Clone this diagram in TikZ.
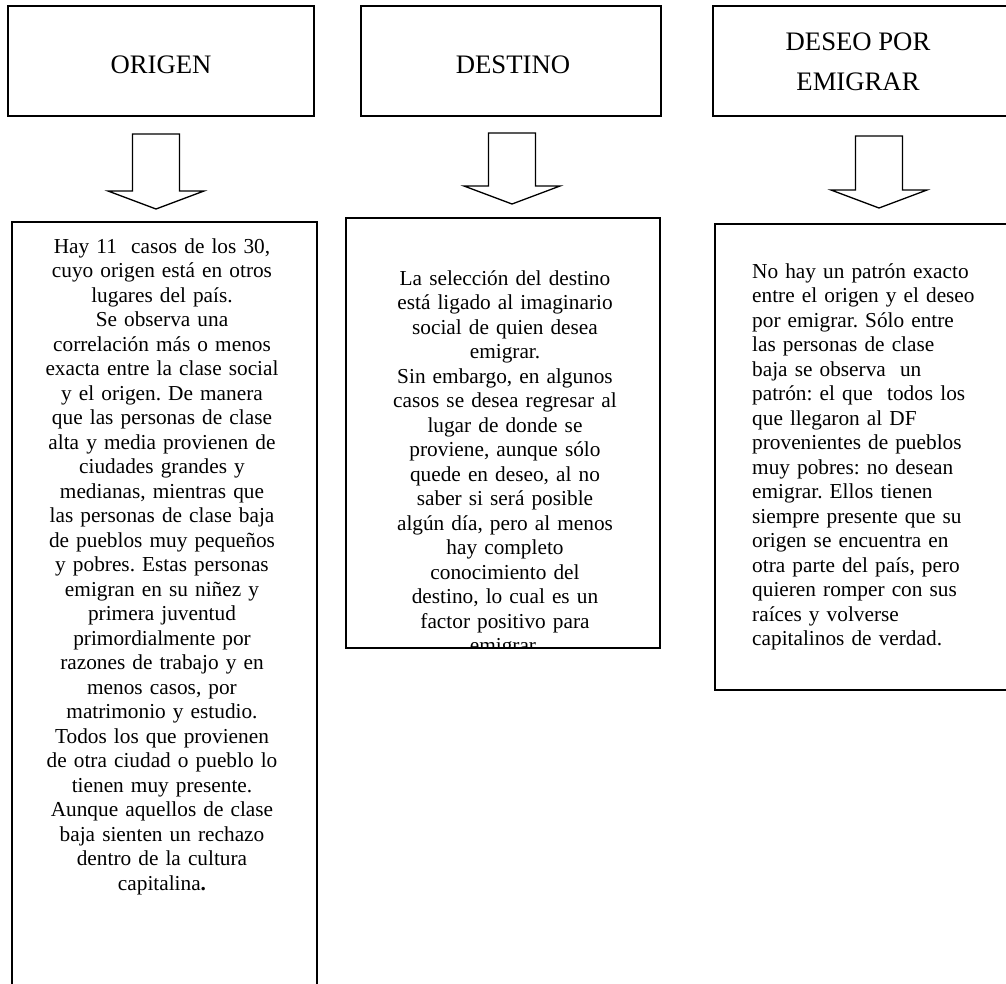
\documentclass[tikz,border=0pt]{standalone}
\usepackage{fontspec}
\setmainfont{Liberation Serif}
\frenchspacing
\usetikzlibrary{positioning}
\tikzstyle{head}=[draw, line width=1.3pt, inner sep=0pt, shape=rectangle]
\tikzstyle{htxt}=[inner sep=0pt, align=center, font=\fontsize{26.7}{40}\selectfont]
\tikzstyle{body}=[inner sep=0pt, anchor=base, text width=300pt, align=center, font=\fontsize{21.3}{24.5}\selectfont]
\tikzstyle{frame}=[line width=1.3pt]
\tikzstyle{blk}=[line width=1.3pt, line join=miter]
\tikzset{>=stealth}

\begin{document}
\begin{tikzpicture}[x=1pt, y=-1pt]
\useasboundingbox (0,0) rectangle (1006,983);
\clip (0,0) rectangle (1006,983);

\node[head, minimum width=306pt, minimum height=110pt] (origen) at (161,61) {};
\node[head, minimum width=300pt, minimum height=110pt] (destino) at (511,61) {};
\node[head, minimum width=320pt, minimum height=110pt] (deseo) at (873,61) {};
\node[htxt] (origenT) at (161,65) {ORIGEN};
\node[htxt] (destinoT) at (513,65) {DESTINO};
\node[htxt] (deseoT) at (858,62) {DESEO POR\\EMIGRAR};

% flechas huecas
\foreach \cx/\ty/\h in {156/134/75, 512/133/71, 879/136/72}
  \draw[blk] (\cx-23.5,\ty) -- (\cx+23.5,\ty) -- (\cx+23.5,\ty+\h-18) -- (\cx+48,\ty+\h-18)
    -- (\cx,\ty+\h) -- (\cx-48,\ty+\h-18) -- (\cx-23.5,\ty+\h-18) -- cycle;

% cajas de texto
\draw[frame] (12,990) -- (12,222) -- (317,222) -- (317,990);
\draw[frame] (346,218) rectangle (660,648);
\draw[frame] (1030,224) -- (715,224) -- (715,690) -- (1030,690);

\node[body] (origenB) at (162,253) {Hay 11\ \ casos de los 30,\\
cuyo origen está en otros\\
lugares del país.\\
Se observa una\\
correlación más o menos\\
exacta entre la clase social\\
y el origen. De manera\\
que las personas de clase\\
alta y media provienen de\\
ciudades grandes y\\
medianas, mientras que\\
las personas de clase baja\\
de pueblos muy pequeños\\
y pobres. Estas personas\\
emigran en su niñez y\\
primera juventud\\
primordialmente por\\
razones de trabajo y en\\
menos casos, por\\
matrimonio y estudio.\\
Todos los que provienen\\
de otra ciudad o pueblo lo\\
tienen muy presente.\\
Aunque aquellos de clase\\
baja sienten un rechazo\\
dentro de la cultura\\
capitalina\textbf{.}};

\begin{scope}
\clip (346,218) rectangle (660,648);
\node[body] (destinoB) at (505,285) {La selección del destino\\
está ligado al imaginario\\
social de quien desea\\
emigrar.\\
Sin embargo, en algunos\\
casos se desea regresar al\\
lugar de donde se\\
proviene, aunque sólo\\
quede en deseo, al no\\
saber si será posible\\
algún día, pero al menos\\
hay completo\\
conocimiento del\\
destino, lo cual es un\\
factor positivo para\\
emigrar.};
\end{scope}

\node[body, anchor=base west, align=left, text width=250pt] (deseoB) at (752,278) {No hay un patrón exacto\\
entre el origen y el deseo\\
por emigrar. Sólo entre\\
las personas de clase\\
baja se observa\ \ un\\
patrón: el que\ \ todos los\\
que llegaron al DF\\
provenientes de pueblos\\
muy pobres: no desean\\
emigrar. Ellos tienen\\
siempre presente que su\\
origen se encuentra en\\
otra parte del país, pero\\
quieren romper con sus\\
raíces y volverse\\
capitalinos de verdad.};
\end{tikzpicture}
\end{document}
